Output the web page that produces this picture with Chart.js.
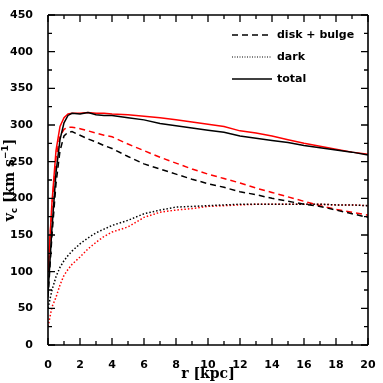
<!DOCTYPE html>
<html>
<head>
<meta charset="utf-8">
<style>
  html, body { margin: 0; padding: 0; background: #fff; }
</style>
</head>
<body>
<canvas id="myChart" width="383" height="383"></canvas>

<script src="https://cdn.jsdelivr.net/npm/chart.js@4/dist/chart.umd.min.js"></script>
<script>
// radius [kpc]
const radius = [0, 0.25, 0.5, 0.75, 1, 1.25, 1.5, 2, 2.5, 3, 3.5, 4, 5, 6, 7, 8, 9, 10, 11, 12, 13, 14, 15, 16, 17, 18, 19, 20];

// black curves
const diskBlack  = [65, 150, 220, 265, 285, 290, 291, 286, 281, 277, 272, 268, 257, 247, 240, 233, 226, 220, 215, 209, 205, 200, 196, 192, 189, 184, 179, 174];
const darkBlack  = [50, 75, 93, 106, 115, 122, 128, 138, 146, 153, 158, 163, 170, 179, 184, 188, 189, 190, 191, 192, 192, 192, 192, 192, 192, 191, 191, 190];
const totalBlack = [70, 160, 235, 280, 303, 313, 316, 315, 317, 314, 313, 313, 310, 307, 302, 299, 296, 293, 290, 285, 282, 279, 276, 272, 269, 266, 263, 259];

// red curves
const diskRed  = [100, 190, 255, 285, 294, 297, 297, 295, 292, 289, 286, 284, 274, 265, 256, 248, 240, 233, 227, 221, 214, 208, 202, 196, 190, 185, 181, 177];
const darkRed  = [25, 52, 65, 82, 95, 103, 110, 120, 131, 140, 148, 154, 161, 174, 181, 184, 186, 189, 190, 191, 192, 192, 192, 192, 192, 191, 191, 190];
const totalRed = [100, 195, 265, 298, 310, 315, 316, 316, 317, 316, 316, 315, 314, 312, 310, 307, 304, 301, 298, 292, 289, 285, 280, 275, 271, 267, 263, 260];

const legendLabels = ['disk + bulge', 'dark', 'total'];

const DASH = [6, 4];
const DOT = [1.5, 2];

function pts(ys) {
    return radius.map((r, i) => ({ x: r, y: ys[i] }));
}
function line(label, ys, color, dash) {
    return {
        label: label,
        data: pts(ys),
        borderColor: color,
        borderWidth: 1.5,
        borderDash: dash,
        pointRadius: 0,
        tension: 0,
        fill: false
    };
}

function seg(c, x1, y1, x2, y2) {
    c.moveTo(x1, y1);
    c.lineTo(x2, y2);
}

const frameTicks = {
    id: 'frameTicks',
    afterDraw(chart) {
        const c = chart.ctx;
        const a = chart.chartArea;
        const sx = chart.scales.x, sy = chart.scales.y;
        const L = a.left, R = a.right, T = a.top, B = a.bottom;
        c.save();
        c.setLineDash([]);
        c.strokeStyle = '#000';
        c.lineWidth = 1.6;
        c.beginPath();
        seg(c, L, T, R, T);
        seg(c, R, T, R, B);
        seg(c, R, B, L, B);
        seg(c, L, B, L, T);
        c.stroke();

        c.lineWidth = 1.3;
        c.beginPath();
        for (let v = 0; v <= 20; v += 1) {
            const px = sx.getPixelForValue(v);
            const len = v % 2 === 0 ? 7 : 4;
            seg(c, px, B, px, B - len);
            seg(c, px, T, px, T + len);
        }
        for (let v = 0; v <= 450; v += 25) {
            const py = sy.getPixelForValue(v);
            const len = v % 50 === 0 ? 7 : 4;
            seg(c, L, py, L + len, py);
            seg(c, R, py, R - len, py);
        }
        c.stroke();

        // legend
        const dashes = [DASH, [1, 1.5], []];
        c.fillStyle = '#000';
        c.font = 'bold 11px "DejaVu Sans"';
        c.textBaseline = 'middle';
        const rows = [35, 57, 79];
        legendLabels.forEach((t, i) => {
            c.setLineDash(dashes[i]);
            c.lineWidth = i === 1 ? 1 : 1.5;
            c.beginPath();
            seg(c, 232, rows[i], 272, rows[i]);
            c.stroke();
            c.fillText(t, 277, rows[i]);
        });
        c.setLineDash([]);

        // axis titles
        c.font = 'bold 14px "DejaVu Serif"';
        c.textAlign = 'center';
        c.textBaseline = 'alphabetic';
        c.fillText('r [kpc]', (L + R) / 2, 378);

        c.translate(14, (T + B) / 2);
        c.rotate(-Math.PI / 2);
        const big = 'bold 14px "DejaVu Serif"', small = 'bold 9px "DejaVu Sans"';
        const parts = [
            { t: 'v', f: big, dy: 0 },
            { t: 'c', f: small, dy: 3 },
            { t: ' [km s', f: big, dy: 0 },
            { t: '\u22121', f: small, dy: -6 },
            { t: ']', f: big, dy: 0 }
        ];
        let total = 0;
        parts.forEach(p => { c.font = p.f; p.w = c.measureText(p.t).width; total += p.w; });
        let x = -total / 2;
        c.textAlign = 'left';
        parts.forEach(p => { c.font = p.f; c.fillText(p.t, x, p.dy); x += p.w; });
        c.restore();
    }
};

const myChart = new Chart(document.getElementById('myChart'), {
    type: 'line',
    data: {
        datasets: [
            line('disk + bulge', diskBlack, '#000', DASH),
            line('dark', darkBlack, '#000', DOT),
            line('total', totalBlack, '#000', []),
            line('disk + bulge', diskRed, '#ff0000', DASH),
            line('dark', darkRed, '#ff0000', DOT),
            line('total', totalRed, '#ff0000', [])
        ]
    },
    options: {
        responsive: false,
        animation: false,
        layout: { padding: { top: 15, right: 15, left: 0, bottom: 0 } },
        plugins: { legend: { display: false }, tooltip: { enabled: false } },
        scales: {
            x: {
                type: 'linear',
                min: 0, max: 20,
                grid: { display: false },
                border: { display: false },
                ticks: {
                    stepSize: 2,
                    padding: 6,
                    color: '#000',
                    maxRotation: 0,
                    font: { family: 'DejaVu Sans', size: 11, weight: 'bold' }
                },
                afterFit(s) { s.height = 38; }
            },
            y: {
                min: 0, max: 450,
                grid: { display: false },
                border: { display: false },
                ticks: {
                    stepSize: 50,
                    padding: 7,
                    color: '#000',
                    font: { family: 'DejaVu Sans', size: 11, weight: 'bold' }
                },
                afterFit(s) { s.width = 48; }
            }
        }
    },
    plugins: [frameTicks]
});
</script>
</body>
</html>
